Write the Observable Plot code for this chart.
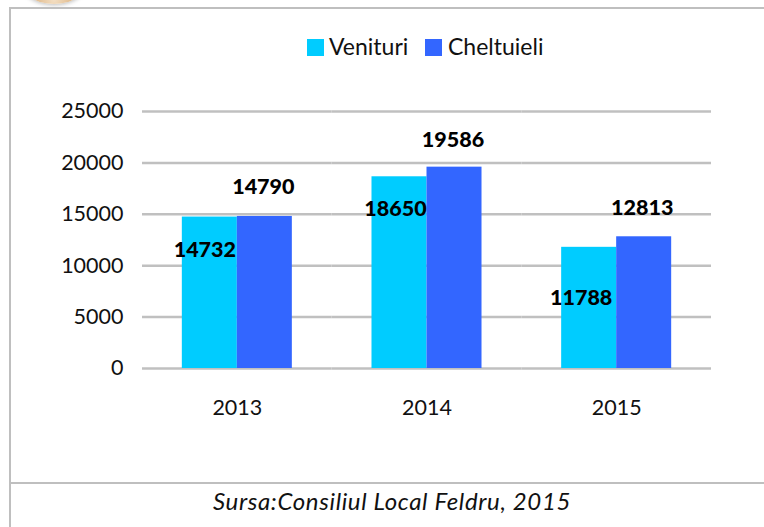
<!DOCTYPE html>
<html><head><meta charset="utf-8">
<script src="https://cdn.jsdelivr.net/npm/d3@7"></script>
<script src="https://cdn.jsdelivr.net/npm/@observablehq/plot@0.6"></script>
<style>
html,body{margin:0;padding:0;background:#fff}
#wrap{position:relative;width:764px;height:527px;overflow:hidden;font-family:Lato,sans-serif;color:#111}
#wrap svg{position:absolute;left:0;top:0}
#seal{position:absolute;left:20px;top:-44px;width:68px;height:48px;border-radius:50%;background:radial-gradient(ellipse at 50% 90%,#f3dfc4 0,#e0b98a 40%,#8f5f34 75%,#4f3622 100%);box-shadow:0 1px 4px #bbb}
#frame{position:absolute;left:9px;top:7px;right:-4px;bottom:-4px;border:solid #bfbfbf;border-width:2px 0 0 2px}
#sep{position:absolute;left:10px;right:0;top:482px;border-top:2px solid #bfbfbf}
#legend{position:absolute;left:0;top:0;font-size:23px;line-height:1}
#legend span{position:absolute;white-space:nowrap;top:35px}
#legend i{position:absolute;top:39px;width:17px;height:17px}
#caption{position:absolute;left:0;width:784px;top:488px;text-align:center;font-style:italic;font-size:24px;letter-spacing:.65px;line-height:26px}
</style></head><body>
<div id="wrap">
<div id="seal"></div><div id="frame"></div><div id="sep"></div>
<div id="legend">
<i style="left:307px;background:#00ccff"></i><span style="left:329px">Venituri</span>
<i style="left:425px;background:#3366ff"></i><span style="left:448px">Cheltuieli</span>
</div>
<div id="caption">Sursa:Consiliul Local Feldru, 2015</div>
</div>
<script>
const years = ["2013", "2014", "2015"];
const seriesNames = ["Venituri", "Cheltuieli"];
const colors = ["#00ccff", "#3366ff"];
const venituri = [14732, 18650, 11788];
const cheltuieli = [14790, 19586, 12813];
const gridTicks = [0, 5000, 10000, 15000, 20000, 25000];

const rows = years.flatMap((year, i) => [
  {year, series: seriesNames[0], value: venituri[i]},
  {year, series: seriesNames[1], value: cheltuieli[i]}
]);
// hand-placed data-label offsets relative to each bar's top centre
const labelOffsets = [[-5,33],[-1.5,-29],[-4,32],[-1.5,-27],[-8,51],[-2,-29]];
const labelMarks = rows.map((r, i) => Plot.text([r], {
  fx: "year", x: "series", y: "value", text: d => String(d.value),
  dx: labelOffsets[i][0], dy: labelOffsets[i][1],
  fontWeight: 900, fontSize: 21.5, fill: "#000"
}));

const chart = Plot.plot({
  width: 764, height: 527,
  marginTop: 111, marginBottom: 159, marginLeft: 142, marginRight: 53,
  style: {background: "transparent", fontFamily: "Lato, sans-serif", overflow: "visible"},
  fx: {domain: years, padding: 0, round: false, label: null},
  x: {domain: seriesNames, paddingInner: 0, paddingOuter: 0.724, round: false, axis: null, label: null},
  y: {domain: [0, 25000], label: null},
  color: {domain: seriesNames, range: colors},
  marks: [
    Plot.ruleY(gridTicks, {stroke: "#c0c0c0", strokeWidth: 2.5}),
    Plot.barY(rows, {fx: "year", x: "series", y: "value", fill: "series"}),
    ...labelMarks,
    Plot.axisY({ticks: gridTicks, tickSize: 0, tickPadding: 19, tickFormat: d => String(d), fontSize: 21.5, fill: "#111", label: null}),
    Plot.axisFx({anchor: "bottom", tickSize: 0, tickPadding: 31, fontSize: 21.5, fill: "#111", label: null})
  ]
});
document.getElementById("wrap").appendChild(chart);
</script>
</body></html>
